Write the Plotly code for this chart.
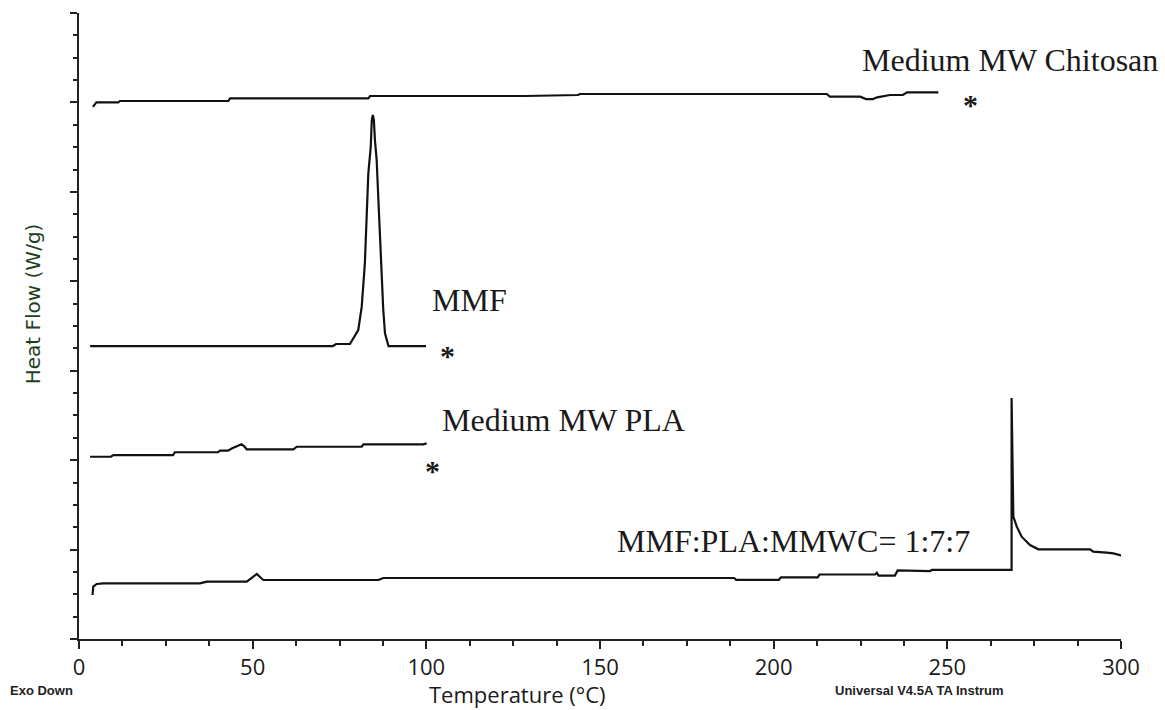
import plotly.graph_objects as go

# DSC thermograms: temperature (°C) vs. heat flow (arbitrary offset units, Exo Down)
chitosan_T = [4, 5, 11.3, 11.8, 43, 43.5, 83.3, 83.8, 128.4, 143.7, 144.2, 215.3, 216.2,
              224.9, 226.6, 228.6, 229.8, 233.5, 237.2, 238.4, 247.4]
chitosan_HF = [5.95, 6.0, 6.0, 6.016, 6.016, 6.046, 6.046, 6.072, 6.072, 6.083, 6.094, 6.094,
               6.064, 6.064, 6.038, 6.038, 6.057, 6.083, 6.083, 6.113, 6.113]

mmf_T = [3.2, 73.1, 74.0, 78.0, 80.4, 81.4, 82.3, 82.8, 83.3, 84.0, 84.3, 84.6, 84.9, 85.2,
         85.7, 86.2, 86.7, 87.2, 87.6, 88.1, 89.1, 99.9]
mmf_HF = [3.276, 3.276, 3.299, 3.299, 3.455, 3.716, 4.201, 4.685, 5.207, 5.505, 5.803, 5.859,
          5.803, 5.580, 5.356, 4.909, 4.462, 4.051, 3.679, 3.418, 3.276, 3.276]

pla_T = [3.2, 9.2, 9.9, 27.1, 27.6, 40.0, 40.6, 42.9, 44.1, 45.8, 46.8, 47.5, 48.3, 61.7,
         62.7, 81.4, 81.9, 99.1, 100.1]
pla_HF = [2.038, 2.038, 2.057, 2.057, 2.088, 2.088, 2.106, 2.106, 2.132, 2.158, 2.177, 2.158,
          2.121, 2.121, 2.150, 2.150, 2.177, 2.177, 2.188]

blend_T = [3.9, 4.1, 5.1, 7.0, 34.8, 36.8, 48.3, 49.8, 51.2, 52.4, 53.1, 86.2, 87.6, 188.6,
           189.2, 201.5, 202.1, 212.7, 213.2, 229.2, 229.7, 230.2, 234.9, 235.7, 238.7, 239.3,
           245.0, 245.6, 268.5, 268.5, 268.8, 269.0, 270.0, 271.4, 273.8, 276.2, 291.1, 292.0,
           295.9, 297.8, 300.7]
blend_HF = [0.492, 0.585, 0.615, 0.623, 0.623, 0.641, 0.641, 0.682, 0.727, 0.682, 0.660, 0.660,
            0.682, 0.682, 0.662, 0.662, 0.690, 0.690, 0.721, 0.721, 0.740, 0.709, 0.709, 0.767,
            0.767, 0.760, 0.760, 0.772, 0.772, 2.695, 1.815, 1.368, 1.256, 1.144, 1.051, 1.003,
            1.003, 0.976, 0.965, 0.958, 0.928]

x_ticks = [0, 50, 100, 150, 200, 250, 300]

LINE = "#111111"
SERIF = "Liberation Serif"
SANS = "Open Sans"
NARROW = "Liberation Sans Narrow, Liberation Sans"

fig = go.Figure()
for T, HF in [(chitosan_T, chitosan_HF), (mmf_T, mmf_HF), (pla_T, pla_HF), (blend_T, blend_HF)]:
    fig.add_trace(go.Scatter(x=T, y=HF, mode="lines",
                             line=dict(color=LINE, width=2.2), showlegend=False,
                             hoverinfo="skip"))

labels = [
    ("Medium MW Chitosan", 224.9, 6.474),
    ("MMF", 101.1, 3.79),
    ("Medium MW PLA", 103.9, 2.449),
    ("MMF:PLA:MMWC= 1:7:7", 154.3, 1.096),
]
for txt, x, y in labels:
    fig.add_annotation(x=x, y=y, xref="x", yref="y", text=txt, showarrow=False,
                       xanchor="left", yanchor="middle",
                       font=dict(family=SERIF, size=32, color="#1a1a1a"))

stars = [(256.8, 6.06), (106.2, 3.254), (101.9, 1.957)]
for x, y in stars:
    fig.add_annotation(x=x, y=y, xref="x", yref="y", text="<b>*</b>", showarrow=False,
                       xanchor="center", yanchor="middle", yshift=-7,
                       font=dict(family=SERIF, size=30, color="#1a1a1a"))

# axis titles and instrument notes
fig.add_annotation(x=-0.044, y=0.535, xref="paper", yref="paper", text="Heat Flow (W/g)",
                   textangle=-90, showarrow=False, xanchor="center", yanchor="middle",
                   font=dict(family="DejaVu Sans", size=20, color="#1c3f1e"))
fig.add_annotation(x=0.421, y=-0.0879, xref="paper", yref="paper", text="Temperature (°C)",
                   showarrow=False, xanchor="center", yanchor="middle",
                   font=dict(family=SANS, size=22, color="#1a1a1a"))
fig.add_annotation(x=-0.0681, y=-0.0815, xref="paper", yref="paper", text="<b>Exo Down</b>",
                   showarrow=False, xanchor="left", yanchor="middle",
                   font=dict(family=NARROW, size=13, color="#222"))
fig.add_annotation(x=0.807, y=-0.0815, xref="paper", yref="paper",
                   text="<b>Universal V4.5A TA Instrum</b>", showarrow=False,
                   xanchor="center", yanchor="middle",
                   font=dict(family=NARROW, size=13, color="#222"))

fig.update_xaxes(range=[0, 300], tickvals=x_ticks, ticktext=[str(v) for v in x_ticks],
                 showline=True, linecolor="#222", linewidth=1.5,
                 ticks="outside", ticklen=8, tickwidth=1.5, tickcolor="#222",
                 minor=dict(dtick=12.5, ticks="outside", ticklen=5, tickwidth=1.5, tickcolor="#222"),
                 showgrid=False, zeroline=False,
                 tickfont=dict(family=SANS, size=22, color="#1a1a1a"))
fig.update_yaxes(range=[0, 7], dtick=1, showticklabels=False,
                 showline=True, linecolor="#222", linewidth=1.5,
                 ticks="outside", ticklen=7, tickwidth=1.5, tickcolor="#222",
                 minor=dict(dtick=0.25, ticks="outside", ticklen=4, tickwidth=1.5, tickcolor="#222"),
                 showgrid=False, zeroline=False)

fig.update_layout(width=1165, height=710,
                  margin=dict(l=79, r=44, t=13, b=71),
                  paper_bgcolor="white", plot_bgcolor="white")

fig.write_html("out.html")
